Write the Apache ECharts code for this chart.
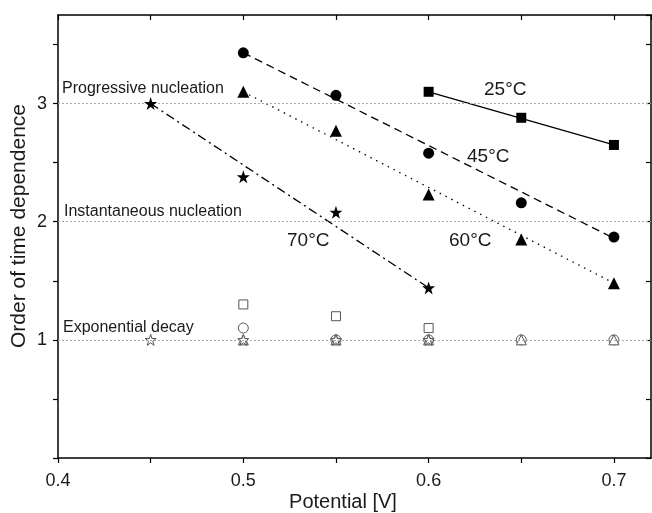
<!DOCTYPE html>
<html><head><meta charset="utf-8">
<script src="https://cdn.jsdelivr.net/npm/echarts@6/dist/echarts.min.js"></script>
<style>html,body{margin:0;padding:0;background:#fff}#c{width:652px;height:513px}</style>
</head><body><div id="c"></div>
<script>
// ---- data ----
const xTicks = [0.4, 0.5, 0.6, 0.7];
const yTicks = [1, 2, 3];
// filled markers (order of time dependence, progressive/instantaneous part)
const pot25 = [0.6, 0.65, 0.7];           const ord25 = [3.10, 2.88, 2.65];
const pot45 = [0.5, 0.55, 0.6, 0.65, 0.7]; const ord45 = [3.43, 3.07, 2.58, 2.16, 1.87];
const pot60 = [0.5, 0.55, 0.6, 0.65, 0.7]; const ord60 = [3.10, 2.77, 2.23, 1.85, 1.48];
const pot70 = [0.45, 0.5, 0.55, 0.6];      const ord70 = [3.00, 2.38, 2.08, 1.44];
// fitted straight lines (end points)
const fit25 = [[0.6, 3.10], [0.7, 2.65]];
const fit45 = [[0.5, 3.43], [0.7, 1.86]];
const fit60 = [[0.5, 3.10], [0.7, 1.48]];
const fit70 = [[0.45, 3.00], [0.6, 1.44]];
// open markers (exponential decay part)
const potO25 = [0.5, 0.55, 0.6];               const ordO25 = [1.30, 1.20, 1.10];
const potO45 = [0.5, 0.55, 0.6, 0.65, 0.7];    const ordO45 = [1.10, 1.00, 1.00, 1.00, 1.00];
const potO60 = [0.5, 0.55, 0.6, 0.65, 0.7];    const ordO60 = [1.00, 1.00, 1.00, 1.00, 1.00];
const potO70 = [0.45, 0.5, 0.55, 0.6];         const ordO70 = [1.00, 1.00, 1.00, 1.00];
// reference levels
const refLevels = [1, 2, 3];
const refNames = ['Exponential decay', 'Instantaneous nucleation', 'Progressive nucleation'];
const tempLabels = ['25°C', '45°C', '60°C', '70°C'];
const xTitle = 'Potential [V]';
const yTitle = 'Order of time dependence';

const zip = (a, b) => a.map((v, i) => [v, b[i]]);
const STAR = 'path://M50,0 L61.8,35.4 L98.6,35.4 L68.9,57.3 L80.2,92.7 L50,70.8 L19.8,92.7 L31.1,57.3 L1.4,35.4 L38.2,35.4 Z';
const FONT = 'Liberation Sans, Arial, sans-serif';
const INK = '#1a1a1a';

const chart = echarts.init(document.getElementById('c'), null, {renderer: 'canvas'});
const isTick = (v, list) => list.some(t => Math.abs(t - v) < 1e-6);

const fitLine = (d, type) => ({
  type: 'line', data: d, showSymbol: false, symbol: 'none', silent: true, z: 3,
  lineStyle: {color: '#000', width: 1.3, type: type}
});
const filled = (d, sym, size) => ({
  type: 'scatter', data: d, symbol: sym, symbolSize: size, z: 5,
  itemStyle: {color: '#000', opacity: 1}
});
const open = (d, sym, size) => ({
  type: 'scatter', data: d, symbol: sym, symbolSize: size, z: 4,
  itemStyle: {color: '#fff', borderColor: '#555', borderWidth: 1, opacity: 1}
});

chart.setOption({
  animation: false,
  backgroundColor: '#fff',
  grid: {left: 58, top: 15, right: 1, bottom: 55, containLabel: false},
  xAxis: [{
    type: 'value', min: 0.4, max: 0.72, interval: 0.05,
    axisLine: {show: true, onZero: false, lineStyle: {color: '#000', width: 1.5}},
    axisTick: {show: true, inside: false, length: 5, lineStyle: {color: '#000', width: 1.2}},
    axisLabel: {fontSize: 18, color: INK, fontFamily: FONT, margin: 14,
      showMaxLabel: false,
      formatter: v => isTick(v, xTicks) ? v.toFixed(1) : ''},
    splitLine: {show: false}
  }, {
    type: 'value', position: 'top', min: 0.4, max: 0.72, interval: 0.05,
    axisLine: {show: true, onZero: false, lineStyle: {color: '#000', width: 1.5}},
    axisTick: {show: true, inside: true, length: 5, lineStyle: {color: '#000', width: 1.2}},
    axisLabel: {show: false}, splitLine: {show: false}
  }],
  yAxis: [{
    type: 'value', min: 0, max: 3.75, interval: 0.5,
    axisLine: {show: true, onZero: false, lineStyle: {color: '#000', width: 1.5}},
    axisTick: {show: true, inside: false, length: 5, lineStyle: {color: '#000', width: 1.2}},
    axisLabel: {fontSize: 18, color: INK, fontFamily: FONT, margin: 11,
      showMaxLabel: false,
      formatter: v => isTick(v, yTicks) ? String(v) : ''},
    splitLine: {show: false}
  }, {
    type: 'value', position: 'right', min: 0, max: 3.75, interval: 0.5,
    axisLine: {show: true, onZero: false, lineStyle: {color: '#000', width: 1.5}},
    axisTick: {show: true, inside: true, length: 5, lineStyle: {color: '#000', width: 1.2}},
    axisLabel: {show: false}, splitLine: {show: false}
  }],
  series: [
    {
      type: 'line', data: [], silent: true, z: 1,
      markLine: {
        silent: true, symbol: 'none', animation: false,
        label: {show: false},
        lineStyle: {color: '#aaa', width: 1, type: [2, 2]},
        data: refLevels.map(v => ({yAxis: v}))
      }
    },
    fitLine(fit25, 'solid'),
    fitLine(fit45, [8, 5]),
    fitLine(fit60, [1.5, 5]),
    fitLine(fit70, [9, 4, 2, 4]),
    open(zip(potO25, ordO25), 'rect', 9),
    open(zip(potO45, ordO45), 'circle', 10),
    open(zip(potO60, ordO60), 'triangle', 10),
    open(zip(potO70, ordO70), STAR, 11),
    filled(zip(pot25, ord25), 'rect', 10),
    filled(zip(pot45, ord45), 'circle', 11),
    filled(zip(pot60, ord60), 'triangle', 12),
    filled(zip(pot70, ord70), STAR, 13)
  ],
  graphic: [
    {type: 'text', left: 62, top: 81, z: 10, style: {text: refNames[2], fontSize: 16, fill: INK, fontFamily: FONT}},
    {type: 'text', left: 64, top: 204, z: 10, style: {text: refNames[1], fontSize: 16, fill: INK, fontFamily: FONT}},
    {type: 'text', left: 63, top: 320, z: 10, style: {text: refNames[0], fontSize: 16, fill: INK, fontFamily: FONT}},
    {type: 'text', left: 484, top: 80, z: 10, style: {text: tempLabels[0], fontSize: 19, fill: INK, fontFamily: FONT}},
    {type: 'text', left: 467, top: 147, z: 10, style: {text: tempLabels[1], fontSize: 19, fill: INK, fontFamily: FONT}},
    {type: 'text', left: 449, top: 231, z: 10, style: {text: tempLabels[2], fontSize: 19, fill: INK, fontFamily: FONT}},
    {type: 'text', left: 287, top: 231, z: 10, style: {text: tempLabels[3], fontSize: 19, fill: INK, fontFamily: FONT}},
    {type: 'text', x: 343, y: 502, z: 10, style: {text: xTitle, fontSize: 20, fill: INK, fontFamily: FONT, align: 'center', verticalAlign: 'middle'}},
    {type: 'text', x: 19, y: 226, rotation: Math.PI / 2, z: 10, style: {text: yTitle, fontSize: 21, fill: INK, fontFamily: FONT, align: 'center', verticalAlign: 'middle'}}
  ]
});
</script></body></html>
